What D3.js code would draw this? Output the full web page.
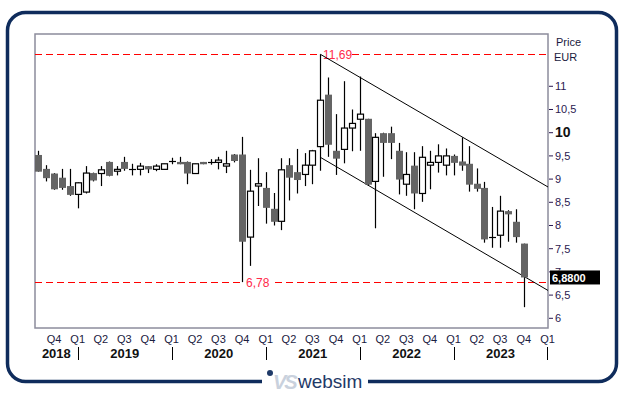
<!DOCTYPE html>
<html>
<head>
<meta charset="utf-8">
<script src="https://cdn.jsdelivr.net/npm/d3@7"></script>
<style>
html,body{margin:0;padding:0;background:#fff;}
svg{display:block;font-family:"Liberation Sans",Arial,sans-serif;}
</style>
</head>
<body>
<svg id="chart" width="629" height="395"></svg>
<script>
// ---- data (monthly candles, EUR) ----
const months = ["2018-08","2018-09","2018-10","2018-11","2018-12",
"2019-01","2019-02","2019-03","2019-04","2019-05","2019-06","2019-07","2019-08","2019-09","2019-10","2019-11","2019-12",
"2020-01","2020-02","2020-03","2020-04","2020-05","2020-06","2020-07","2020-08","2020-09","2020-10","2020-11","2020-12",
"2021-01","2021-02","2021-03","2021-04","2021-05","2021-06","2021-07","2021-08","2021-09","2021-10","2021-11","2021-12",
"2022-01","2022-02","2022-03","2022-04","2022-05","2022-06","2022-07","2022-08","2022-09","2022-10","2022-11","2022-12",
"2023-01","2023-02","2023-03","2023-04","2023-05","2023-06","2023-07","2023-08","2023-09","2023-10"];
const open  = [9.52,9.22,9.12,9.03,8.85, 8.67,8.72,9.13,9.12,9.37,9.17,9.37,9.21,9.21,9.28,9.21,9.21,
 9.39,9.37,9.37,9.12,9.37,9.37,9.36,9.28,9.53,9.53,7.75,8.85,
 8.81,8.36,8.09,9.30,9.15,9.10,9.30,9.70,10.82,9.61,9.64,10.10,
 10.29,10.30,8.95,9.99,9.99,9.61,8.89,9.29,8.69,9.30,9.36,9.30,
 9.50,9.38,9.33,8.90,8.81,7.76,7.79,8.31,8.08,7.61];
const high  = [9.61,9.30,9.13,9.22,9.22, 8.93,9.28,9.14,9.28,9.38,9.28,9.48,9.33,9.35,9.28,9.32,9.33,
 9.46,9.48,9.38,9.33,9.37,9.43,9.48,9.61,9.54,9.91,9.20,9.45,
 9.15,8.70,9.45,9.45,9.65,9.56,9.63,11.69,11.19,10.40,11.11,10.50,
 11.21,10.30,9.99,10.00,10.13,9.78,9.58,9.58,9.71,9.61,9.75,9.66,
 9.53,9.90,9.71,9.23,8.94,8.40,8.64,8.33,8.35,7.61];
const low   = [9.16,8.95,8.77,8.77,8.64, 8.37,8.69,8.95,8.85,9.06,9.08,9.18,9.08,9.08,9.13,9.17,9.21,
 9.32,9.32,8.89,9.12,9.32,9.31,9.21,9.13,9.36,6.78,7.13,8.42,
 8.04,8.00,7.90,8.54,8.69,8.85,8.89,9.18,9.48,9.09,9.34,9.60,
 9.61,8.86,7.94,9.05,9.43,8.67,8.64,8.35,8.51,8.78,9.14,9.08,
 9.08,9.18,8.73,8.73,7.63,7.52,7.52,7.65,7.63,6.24];
const close = [9.16,9.02,8.78,8.81,8.66, 8.92,9.13,8.97,9.20,9.07,9.21,9.22,9.21,9.28,9.21,9.28,9.33,
 9.39,9.32,9.12,9.33,9.32,9.37,9.41,9.33,9.39,7.65,8.74,8.90,
 8.38,8.08,9.20,9.03,8.98,9.30,9.61,10.70,9.74,9.44,10.10,10.20,
 10.40,8.88,9.90,9.78,9.78,8.99,9.10,8.69,9.47,9.36,9.50,9.50,
 9.35,9.29,8.88,8.79,7.70,7.76,8.31,8.24,7.75,6.88];

const yTicks = [6,6.5,7,7.5,8,8.5,9,9.5,10,10.5,11];
const quarterLabels = ["Q4","Q1","Q2","Q3","Q4","Q1","Q2","Q3","Q4","Q1","Q2","Q3","Q4","Q1","Q2","Q3","Q4","Q1","Q2","Q3","Q4","Q1"];
const quarterDates  = ["2018-10","2019-01","2019-04","2019-07","2019-10","2020-01","2020-04","2020-07","2020-10","2021-01","2021-04","2021-07","2021-10","2022-01","2022-04","2022-07","2022-10","2023-01","2023-04","2023-07","2023-10","2024-01"];
const yearLabels = ["2018","2019","2020","2021","2022","2023"];
const yearBreaks = ["2019-01","2020-01","2021-01","2022-01","2023-01","2024-01"];

const highLevel = 11.69, lowLevel = 6.78, lastPrice = 6.88;
// trend channel (start = August 2021 high, end = right edge)
const channelDates = ["2021-08","2024-01-03"];
const channelUpper = [11.69, 8.83];
const channelLower = [9.47, 6.60];

// ---- layout ----
const svg = d3.select("#chart");
const L = 35, R = 548, T = 34, B = 328;
const parse = d3.timeParse("%Y-%m");
const parseD = s => s.length > 7 ? d3.timeParse("%Y-%m-%d")(s) : parse(s);

const x = d3.scaleTime().domain([new Date(2018,6,19), new Date(2024,0,3)]).range([L, R]);
const y = d3.scaleLinear().domain([5.791, 12.127]).range([B, T]);

// outer rounded frame
svg.append("rect").attr("x",7.5).attr("y",12.5).attr("width",609).attr("height",369)
  .attr("rx",18).attr("fill","none").attr("stroke","#0f2c5c").attr("stroke-width",3.5);
// gap for logo
svg.append("rect").attr("x",262).attr("y",376).attr("width",106).attr("height",12).attr("fill","#fff");

// plot frame
svg.append("rect").attr("x",L).attr("y",T).attr("width",R-L).attr("height",B-T)
  .attr("fill","#fff").attr("stroke","#8c8c9c").attr("stroke-width",1.5);

const defs = svg.append("defs");
defs.append("clipPath").attr("id","clip").append("rect")
  .attr("x",L).attr("y",T).attr("width",R-L).attr("height",B-T);
const plot = svg.append("g").attr("clip-path","url(#clip)");

// horizontal red dashed levels
[[highLevel,"11,69",[320,352]],[lowLevel,"6,78",[243,275]]].forEach(([v,lab,gap])=>{
  const yy = Math.round(y(v))+0.5;
  plot.append("line").attr("x1",L).attr("x2",gap[0]).attr("y1",yy).attr("y2",yy)
    .attr("stroke","#ff0000").attr("stroke-width",1.2).attr("stroke-dasharray","7,4");
  plot.append("line").attr("x1",gap[1]).attr("x2",R).attr("y1",yy).attr("y2",yy)
    .attr("stroke","#ff0000").attr("stroke-width",1.2).attr("stroke-dasharray","7,4");
  plot.append("text").attr("x",gap[0]+3).attr("y",yy+4.5).text(lab)
    .attr("font-size",12).attr("fill","#ff2a4a");
});

// channel lines
[channelUpper, channelLower].forEach(vals=>{
  plot.append("line")
    .attr("x1",x(parseD(channelDates[0]))).attr("y1",y(vals[0]))
    .attr("x2",x(parseD(channelDates[1]))).attr("y2",y(vals[1]))
    .attr("stroke","#000").attr("stroke-width",1);
});

// candles
const data = months.map((m,i)=>({d:parse(m),o:open[i],h:high[i],l:low[i],c:close[i]}));
const g = plot.append("g");
data.forEach(p=>{
  const cx = Math.round(x(p.d));
  g.append("line").attr("x1",cx+0.5).attr("x2",cx+0.5)
    .attr("y1",y(p.h)).attr("y2",y(p.l)).attr("stroke","#000").attr("stroke-width",1.2);
  const top = y(Math.max(p.o,p.c)), bot = y(Math.min(p.o,p.c));
  if (Math.abs(p.o-p.c) < 0.005) {
    g.append("line").attr("x1",cx-3).attr("x2",cx+4)
      .attr("y1",Math.round(top)+0.5).attr("y2",Math.round(top)+0.5)
      .attr("stroke","#000").attr("stroke-width",1.2);
  } else if (p.c > p.o) {
    g.append("rect").attr("x",cx-2.5).attr("y",top).attr("width",6).attr("height",Math.max(1,bot-top))
      .attr("fill","#fff").attr("stroke","#000").attr("stroke-width",1.2);
  } else {
    g.append("rect").attr("x",cx-3).attr("y",top).attr("width",7).attr("height",Math.max(1,bot-top))
      .attr("fill","#646464");
  }
});

// last price box position
const ly = y(lastPrice);
defs.append("clipPath").attr("id","aboveBox").append("rect")
  .attr("x",R).attr("y",0).attr("width",80).attr("height",ly-7);

// right axis
const ax = svg.append("g");
yTicks.forEach(v=>{
  const yy = y(v);
  ax.append("line").attr("x1",R+1).attr("x2",R+5).attr("y1",yy).attr("y2",yy)
    .attr("stroke","#2a1850").attr("stroke-width",1);
  const bold = v === 10;
  const t = ax.append("text").attr("x",R+7).attr("y",yy+4)
    .attr("font-size",bold?14:11).attr("font-weight",bold?"bold":"normal")
    .attr("fill",bold?"#111":"#2a1850")
    .text(String(v).replace(".",","));
  if (Math.abs(yy-ly) < 10) t.attr("clip-path","url(#aboveBox)");
});
svg.append("text").attr("x",556).attr("y",46).attr("font-size",11).attr("fill","#1a1a40").text("Price");
svg.append("text").attr("x",554).attr("y",61).attr("font-size",11).attr("fill","#1a1a40").text("EUR");

svg.append("rect").attr("x",550).attr("y",ly-7).attr("width",50).attr("height",14).attr("fill","#000");
svg.append("text").attr("x",552).attr("y",ly+4.5).attr("font-size",11).attr("font-weight","bold")
  .attr("fill","#fff").text(d3.format(".4f")(lastPrice).replace(".",","));

// x axis labels
quarterLabels.forEach((q,i)=>{
  svg.append("text").attr("x",x(parse(quarterDates[i]))).attr("y",343)
    .attr("text-anchor","middle").attr("font-size",11).attr("fill","#1a2040").text(q);
});
yearBreaks.forEach(b=>{
  const xx = Math.round(x(parse(b)))+0.5;
  svg.append("line").attr("x1",xx).attr("x2",xx).attr("y1",347).attr("y2",360)
    .attr("stroke","#000").attr("stroke-width",1);
});
yearLabels.forEach((yl,i)=>{
  const a = Math.max(L, x(new Date(+yl,0,1))), b = Math.min(R, x(new Date(+yl+1,0,1)));
  svg.append("text").attr("x",(a+b)/2).attr("y",358).attr("text-anchor","middle")
    .attr("font-size",13).attr("font-weight","bold").attr("fill","#111").text(yl);
});

// logo
svg.append("circle").attr("cx",270).attr("cy",373).attr("r",3).attr("fill","#1f3a68");
svg.append("text").attr("x",273).attr("y",389).attr("font-size",20).attr("font-weight","bold")
  .attr("font-style","italic").attr("fill","#c9d1dd").attr("letter-spacing",-2).text("VS");
svg.append("text").attr("x",298).attr("y",388).attr("font-size",19).attr("fill","#1f3a68").text("websim");
</script>
</body>
</html>
